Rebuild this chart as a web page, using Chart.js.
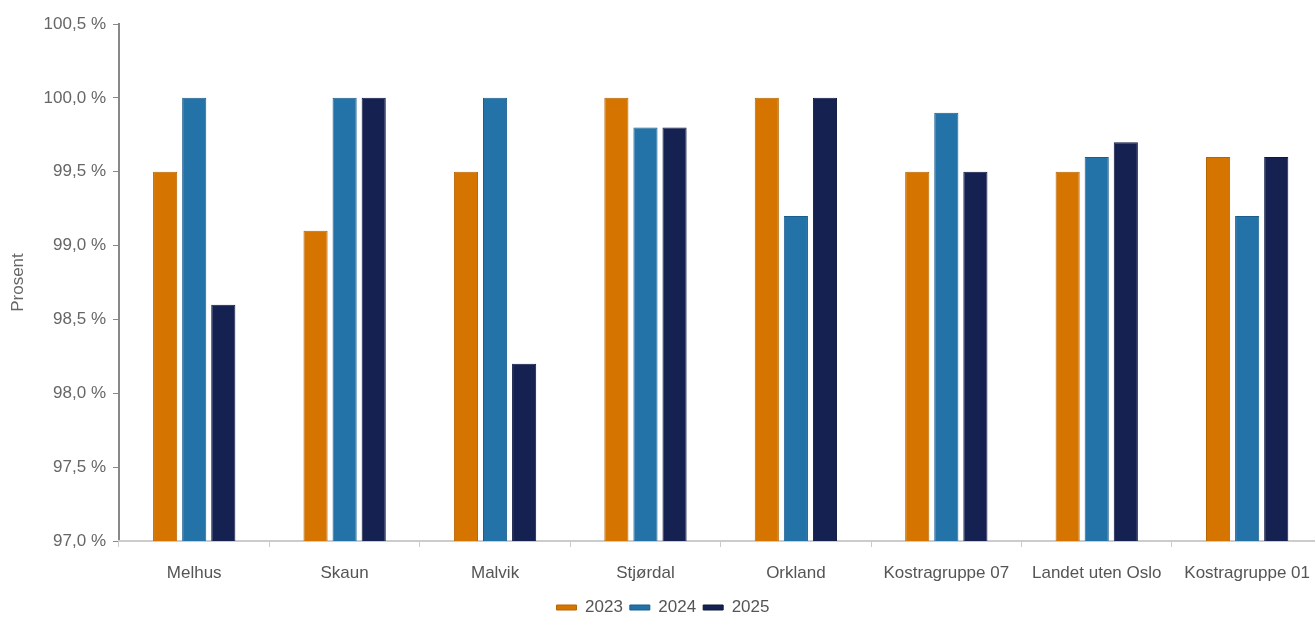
<!DOCTYPE html>
<html>
<head>
<meta charset="utf-8">
<script src="https://cdn.jsdelivr.net/npm/chart.js@4"></script>
<style>
  html, body { margin: 0; padding: 0; background: #fff; overflow: hidden; }
  #wrap { width: 1326px; height: 626px; position: relative; }
</style>
</head>
<body>
<div id="wrap"><canvas id="chart"></canvas></div>
<script>
const categories = ['Melhus', 'Skaun', 'Malvik', 'Stjørdal', 'Orkland', 'Kostragruppe 07', 'Landet uten Oslo', 'Kostragruppe 01'];
const years = ['2023', '2024', '2025'];
const values2023 = [99.5, 99.1, 99.5, 100.0, 100.0, 99.5, 99.5, 99.6];
const values2024 = [100.0, 100.0, 100.0, 99.8, 99.2, 99.9, 99.6, 99.2];
const values2025 = [98.6, 100.0, 98.2, 99.8, 100.0, 99.5, 99.7, 99.6];

const fills = ['#d57500', '#2372a8', '#152251'];
const borders = ['#b86400', '#1a5e8d', '#0d1740'];

const font = { family: '"Liberation Sans", Arial, sans-serif', size: 17 };

new Chart(document.getElementById('chart'), {
  type: 'bar',
  data: {
    labels: categories,
    datasets: [values2023, values2024, values2025].map((vals, i) => ({
      label: years[i],
      data: vals,
      backgroundColor: fills[i],
      borderColor: borders[i],
      borderWidth: 1,
      categoryPercentage: 0.58,
      barPercentage: 0.83
    }))
  },
  options: {
    responsive: true,
    maintainAspectRatio: false,
    animation: false,
    layout: { padding: { top: 24, left: 0, right: 0, bottom: 0 } },
    plugins: {
      tooltip: { enabled: false },
      legend: {
        position: 'bottom',
        labels: {
          color: '#555',
          font: font,
          boxWidth: 20,
          boxHeight: 5,
          padding: 7
        }
      }
    },
    scales: {
      y: {
        min: 97,
        max: 100.5,
        ticks: {
          stepSize: 0.5,
          color: '#666',
          font: font,
          padding: 7,
          callback: (v) => v.toFixed(1).replace('.', ',') + ' %'
        },
        grid: { drawOnChartArea: false, drawTicks: true, tickLength: 6, color: '#888' },
        border: { display: true, color: '#888', width: 2 },
        title: { display: true, text: 'Prosent', color: '#666', font: { family: font.family, size: 17 }, padding: { top: 8, bottom: 8 } },
        afterFit: (scale) => { scale.width = 119; }
      },
      x: {
        ticks: { color: '#555', font: font, padding: 16, maxRotation: 0, autoSkip: false },
        grid: { drawOnChartArea: false, drawTicks: true, tickLength: 6, color: '#ccc' },
        border: { display: true, color: '#ccc', width: 2 },
        afterFit: (scale) => { scale.height = 51; }
      }
    }
  }
});
</script>
</body>
</html>
